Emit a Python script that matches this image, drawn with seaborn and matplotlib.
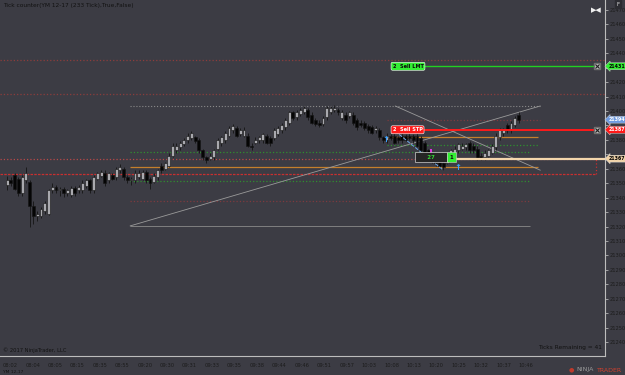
import numpy as np
import pandas as pd
import matplotlib
matplotlib.use("Agg")
import matplotlib.pyplot as plt
import seaborn as sns

# ---------------- data ----------------
opens = [21349, 21352, 21356, 21353, 21343, 21352, 21351, 21334, 21327, 21327,
         21331, 21329, 21345, 21347.5, 21345, 21346, 21343, 21342, 21347, 21345,
         21345, 21348, 21352, 21345, 21353, 21355, 21357, 21352, 21356, 21354,
         21359, 21360, 21354.5, 21352, 21352, 21354.5, 21353, 21358, 21353, 21351,
         21354, 21362, 21360, 21362, 21369, 21373, 21375, 21377, 21380, 21381,
         21382, 21380, 21373, 21368, 21367, 21368, 21374, 21378, 21380, 21383,
         21387, 21388, 21384, 21383, 21383, 21376, 21378, 21380, 21380, 21382.5,
         21381, 21381, 21384, 21387, 21389, 21392, 21399, 21396, 21398, 21399,
         21401, 21397, 21394, 21392, 21391, 21396, 21399, 21401, 21401, 21395,
         21397, 21396.5, 21397, 21394, 21392, 21392, 21389.5, 21389, 21387, 21387,
         21382, 21380, 21382.5, 21383, 21382, 21383, 21382.5, 21383, 21382.5, 21383,
         21381, 21378, 21373, 21369, 21367, 21366, 21364, 21364, 21367, 21371,
         21373, 21374, 21375, 21378, 21376, 21374, 21369, 21368, 21369, 21371,
         21375, 21382, 21385, 21390, 21387, 21390, 21397]
closes = [21352, 21350, 21346, 21343, 21354.5, 21357, 21334, 21327, 21329, 21332,
          21336, 21345, 21347.5, 21345, 21346, 21343, 21345, 21347, 21343, 21347.5,
          21350, 21352, 21345, 21354.5, 21357, 21358, 21350, 21357, 21353, 21360,
          21361.5, 21354, 21352, 21353, 21357, 21357, 21358, 21352, 21350, 21355,
          21359, 21359, 21364, 21369, 21376, 21376, 21378, 21380, 21383, 21385,
          21379, 21373, 21368, 21366, 21369, 21373, 21380, 21382, 21385, 21388,
          21389.5, 21383, 21387, 21387, 21376, 21375, 21380, 21382, 21384, 21378,
          21378, 21387, 21388, 21390, 21394, 21399, 21395, 21399, 21401, 21402,
          21396, 21392, 21391, 21390, 21395, 21402, 21402, 21402, 21399, 21399,
          21394, 21399, 21392, 21389, 21390, 21388, 21387, 21385, 21388, 21382,
          21380, 21383, 21381, 21378, 21380, 21380, 21380, 21381, 21380, 21376,
          21373, 21371, 21369, 21366, 21364, 21362, 21361.5, 21369, 21373, 21374,
          21377, 21376, 21377, 21373, 21373, 21367, 21367, 21371, 21373, 21375.5,
          21383, 21387, 21387, 21387, 21392, 21395, 21394]
highs = [21355, 21354, 21357, 21354.5, 21356, 21361.5, 21352, 21338, 21331, 21333.5,
         21338, 21346, 21350, 21349, 21347.5, 21347.5, 21346, 21348, 21348, 21349,
         21352, 21353, 21353, 21356, 21358, 21359, 21359, 21358, 21357, 21361.5,
         21363, 21361.5, 21356, 21354.5, 21359, 21359, 21359, 21359, 21354.5, 21357,
         21360, 21364, 21365, 21371, 21378, 21378, 21379, 21381, 21385, 21386,
         21383, 21381, 21374, 21369, 21371, 21374, 21381, 21383, 21386, 21389.5,
         21391, 21389.5, 21388, 21389, 21385, 21378, 21382, 21383, 21385, 21384,
         21382.5, 21388, 21389.5, 21392, 21395, 21400, 21400, 21401, 21402, 21403.5,
         21402, 21399, 21395, 21394, 21396.5, 21403.5, 21403.5, 21404, 21402, 21401,
         21399, 21400, 21399, 21395, 21394, 21393, 21391, 21390, 21389.5, 21388,
         21383, 21385, 21384, 21385, 21383, 21385, 21384, 21385, 21384, 21385,
         21382.5, 21379, 21374, 21371, 21368.5, 21367, 21366, 21371, 21374, 21375.5,
         21378, 21378, 21378, 21379, 21378, 21375.5, 21371, 21373, 21374, 21377,
         21385, 21388, 21388, 21392, 21393, 21396.5, 21399]
lows = [21345, 21348, 21345, 21341, 21341, 21350, 21320, 21322, 21324, 21326,
        21329, 21328, 21343, 21343, 21341, 21340.5, 21341, 21340.5, 21341, 21343,
        21343, 21347, 21343, 21343, 21352, 21354, 21348, 21350, 21352, 21352,
        21357, 21352, 21350, 21349, 21350, 21353, 21352, 21350, 21346, 21350,
        21352, 21357, 21359, 21361, 21368, 21371, 21373, 21375.5, 21378, 21380,
        21378, 21371, 21366, 21364, 21366, 21366, 21373, 21376, 21378, 21382,
        21385, 21382, 21382.5, 21382, 21375, 21373, 21377, 21378, 21378, 21377,
        21376, 21380, 21382.5, 21385, 21387, 21390, 21394, 21394, 21396.5, 21398,
        21394, 21391, 21389.5, 21389, 21389.5, 21394, 21398, 21399, 21397, 21394,
        21392, 21395, 21390, 21387, 21389, 21387, 21385, 21384, 21385, 21380,
        21378, 21378, 21380, 21377, 21378, 21378, 21379, 21380, 21378, 21375,
        21371, 21370, 21368, 21364, 21362, 21360, 21359, 21363, 21366, 21370,
        21371, 21373, 21373, 21371, 21371, 21366, 21366, 21366, 21368, 21370,
        21373, 21380, 21383, 21385, 21385, 21389, 21392]

time_labels = ["08:02", "08:04", "08:05", "08:15", "08:35", "08:55", "09:20", "09:30",
               "09:31", "09:33", "09:35", "09:38", "09:44", "09:46", "09:51", "09:57",
               "10:03", "10:08", "10:13", "10:20", "10:25", "10:32", "10:37", "10:46"]
price_ticks = list(range(21240, 21471, 10))
hidden_price_labels = [21430, 21390, 21370]   # covered by the price tags

# drawing-tool levels (price, x start bar, x end bar, color, style, width)
levels = [
    (21435, -2, 159, "#8c3c3c", ":", 0.9),
    (21412, -2, 159, "#8c3c3c", ":", 0.9),
    (21403.5, 32.7, 141.8, "#8a8a8a", ":", 0.8),
    (21394, 101, 141.8, "#7e3a3e", ":", 0.9),
    (21382, 101, 141.2, "#c47f2c", "-", 0.9),
    (21376.5, 101, 141.2, "#2f8f2f", ":", 0.9),
    (21371.6, 32.7, 139, "#2f8f2f", ":", 0.9),
    (21361.5, 32.7, 141.2, "#c47f2c", "-", 0.9),
    (21351.7, 32.7, 139, "#2f8f2f", ":", 0.9),
    (21337.7, 32.7, 139, "#7e3a3e", ":", 0.9),
    (21320.4, 32.7, 139, "#8a8a8a", "-", 0.6),
]
order_levels = [  # price, label, line color, tag color, text color
    (21431, "2  Sell LMT", "#22d022", "#33ee33", "#0a0a0a"),
    (21387, "2  Sell STP", "#ff1a1a", "#ff1a1a", "#ffffff"),
]
tags = [(21431, "21431", "#33ee33", "#000000"),
        (21394, "21394", "#6f9be0", "#ffffff"),
        (21387, "21387", "#ff1a1a", "#ffffff"),
        (21367, "21367", "#efd2a8", "#000000")]

# ---------------- style ----------------
BG = "#3c3c44"
sns.set_theme(style="dark", rc={"axes.facecolor": BG, "figure.facecolor": BG})
plt.rcParams["font.family"] = ["DejaVu Sans"]

fig = plt.figure(figsize=(6.25, 3.75), dpi=100)
ax = fig.add_axes([0, 19 / 375, 605 / 625, 356 / 375])
ax.set_facecolor(BG)

df = pd.DataFrame({"o": opens, "h": highs, "l": lows, "c": closes})
df["i"] = np.arange(len(df))
up = df["c"] >= df["o"]

# wicks
ax.vlines(df["i"], df["l"], df["h"], color="#151515", lw=0.6, zorder=3)
# bodies
body_b = np.minimum(df["o"], df["c"])
body_h = np.maximum(np.abs(df["c"] - df["o"]), 0.5)
ax.bar(df["i"][up], body_h[up], bottom=body_b[up], width=0.78,
       color="#a9a9ae", edgecolor="#151515", lw=0.4, zorder=4)
ax.bar(df["i"][~up], body_h[~up], bottom=body_b[~up], width=0.78,
       color="#050505", edgecolor="#151515", lw=0.4, zorder=4)

# drawing tools
for p, x0, x1, col, ls, lw in levels:
    ax.hlines(p, x0, x1, colors=col, linestyles=ls, lw=lw, zorder=2)

# red rectangle region
ax.hlines(21367, -2, 156.6, colors="#b84848", linestyles=":", lw=0.9, zorder=2)
ax.hlines(21356.4, -2, 156.6, colors="#c83030", linestyles=(0, (2, 1)), lw=0.9, zorder=2)
ax.vlines(156.6, 21356.4, 21367, colors="#c83030", linestyles=":", lw=0.9, zorder=2)

# diagonal lines
ax.plot([32.7, 141.8], [21320.4, 21403.5], color="#9a9a9a", lw=0.6, zorder=2)
ax.plot([103.2, 141.8], [21403.5, 21359], color="#9a9a9a", lw=0.6, zorder=2)

# order lines
for p, lab, lc, tc, txc in order_levels:
    ax.hlines(p, 108.5, 157, colors=lc, lw=1.0 if "LMT" in lab else 1.4, zorder=5)
    ax.text(102.5, p, lab, fontsize=3.6, color=txc, va="center", ha="left", zorder=7,
            fontweight="bold",
            bbox=dict(boxstyle="round,pad=0.3", fc=tc, ec="#ffffff", lw=0.4))
    ax.plot(157, p, marker="s", ms=5, color="#c8c8c8", mec="#707070", zorder=7)
    ax.plot(157, p, marker="x", ms=3, color="#202020", mew=0.8, zorder=8)

# position line
ax.hlines(21367, 119, 159, colors="#f3d6ac", lw=1.6, zorder=5)
ax.text(109.3, 21368, "     27     ", fontsize=3.9, color="#33dd33", va="center",
        ha="left", zorder=7, fontweight="bold",
        bbox=dict(boxstyle="square,pad=0.5", fc="#262626", ec="#d0d0d0", lw=0.5))
ax.text(117.6, 21368, "1", fontsize=3.9, color="#0a0a0a", va="center", ha="left",
        zorder=8, fontweight="bold",
        bbox=dict(boxstyle="square,pad=0.45", fc="#33ee33", ec="#d0d0d0", lw=0.4))

# fill markers / arrows
ax.plot([103.2, 116], [21386, 21359], color="#6fa8e8", lw=0.7, ls="--", zorder=6)
ax.text(100.8, 21380, "↑", fontsize=6, color="#3aa0ff", ha="center", va="center",
        fontweight="bold", zorder=6)
ax.text(119.8, 21361, "↑", fontsize=6, color="#3aa0ff", ha="center", va="center",
        fontweight="bold", zorder=6)
ax.plot(112.8, 21371.6, marker="|", ms=4, color="#ff33ff", mew=1.2, zorder=6)

# axes
ax.set_xlim(-1.9, 159.0)
ax.set_ylim(21230.3, 21476.9)
tick_pos = [0.8 + 5.965 * k for k in range(len(time_labels))]
ax.set_xticks(tick_pos)
ax.set_xticklabels(time_labels)
ax.yaxis.tick_right()
ax.set_yticks(price_ticks)
ax.set_yticklabels(["" if v in hidden_price_labels else str(v) for v in price_ticks])
ax.tick_params(axis="both", labelsize=3.7, length=2, width=0.5, direction="out")
ax.tick_params(axis="x", colors="#c8c8c8", labelcolor="#1c1c1c", pad=3)
ax.tick_params(axis="y", colors="#c8c8c8", labelcolor="#1c1c1c", pad=1)
for s in ["top", "left"]:
    ax.spines[s].set_visible(False)
for s in ["right", "bottom"]:
    ax.spines[s].set_visible(True)
    ax.spines[s].set_color("#bdbdbd")
    ax.spines[s].set_linewidth(0.8)
ax.grid(False)

# price tags on the axis
tr = ax.get_yaxis_transform()
for p, lab, fc, tc in tags:
    ax.text(1.006, p, lab, transform=tr, fontsize=3.4, color=tc, va="center",
            ha="left", fontweight="bold", zorder=10, clip_on=False,
            bbox=dict(boxstyle="larrow,pad=0.2", fc=fc, ec="#e0e0e0", lw=0.3))

# texts
fig.text(3 / 625, 1 - 5 / 375, "Tick counter(YM 12-17 (233 Tick),True,False)",
         fontsize=4.2, color="#121212", va="center", ha="left")
fig.text(3 / 625, 1 - 350 / 375, "© 2017 NinjaTrader, LLC", fontsize=3.7,
         color="#121212", va="center", ha="left")
fig.text(3 / 625, 1 - 372 / 375, "YM 12-17", fontsize=3.2, color="#121212",
         va="center", ha="left")
fig.text(602 / 625, 1 - 348 / 375, "Ticks Remaining = 41", fontsize=4.2,
         color="#121212", va="center", ha="right")
fig.text(596 / 625, 1 - 10 / 375, "▶◀", fontsize=5, color="#f0f0f0",
         va="center", ha="center")
fig.text(618 / 625, 1 - 4 / 375, "F", fontsize=4, color="#dddddd", va="center",
         ha="center", bbox=dict(boxstyle="square,pad=0.2", fc="#2c2c32", ec="#2c2c32"))
fig.text(571 / 625, 1 - 370 / 375, "●", fontsize=4.5, color="#c03a2b", va="center",
         ha="center")
fig.text(576 / 625, 1 - 370 / 375, "NINJA", fontsize=4.5, color="#9a9a9a",
         va="center", ha="left")
fig.text(597 / 625, 1 - 370 / 375, "TRADER", fontsize=4.5, color="#d0402e",
         va="center", ha="left")

fig.savefig("out.png", dpi=100, facecolor=BG)
